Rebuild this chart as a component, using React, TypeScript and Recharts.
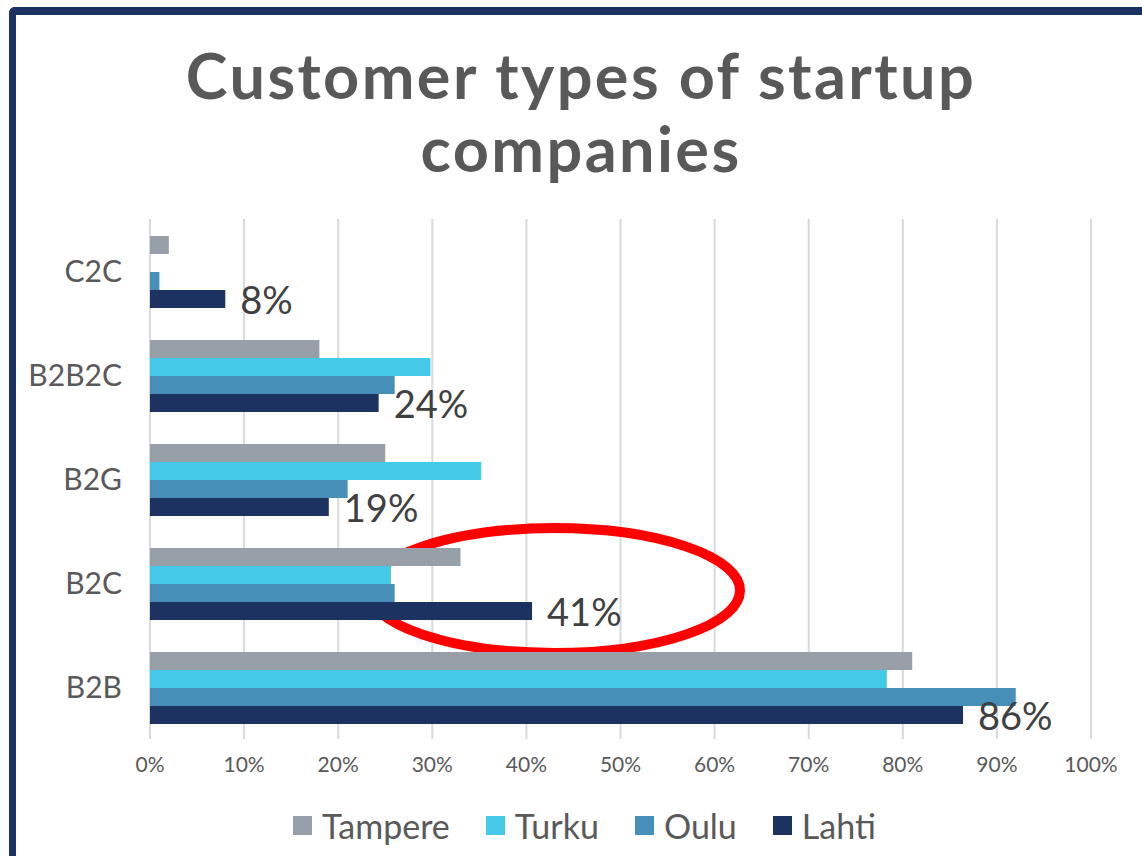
import React from 'react';
import {
  BarChart,
  Bar,
  XAxis,
  YAxis,
  CartesianGrid,
  LabelList,
  ReferenceArea,
} from 'recharts';

const categories = ['C2C', 'B2B2C', 'B2G', 'B2C', 'B2B'];
const tampere = [2, 18, 25, 33, 81];
const turku = [0, 29.8, 35.2, 25.6, 78.3];
const oulu = [1, 26, 21, 26, 92];
const lahti = [8, 24.3, 19, 40.6, 86.4];
const xTicks = [0, 10, 20, 30, 40, 50, 60, 70, 80, 90, 100];

const seriesNames = ['Tampere', 'Turku', 'Oulu', 'Lahti'];
const seriesColors = ['#97a0a9', '#44c9e6', '#458fb8', '#1c3260'];

const FONT = 'Lato, "Open Sans", sans-serif';
const NAVY = '#1c3260';

const data = categories.map((c, i) => ({
  name: c,
  Tampere: tampere[i],
  Turku: turku[i],
  Oulu: oulu[i],
  Lahti: lahti[i],
}));

const ValueLabel = (props: any) => {
  const { x, y, width, height, value } = props;
  return (
    <text
      x={x + width + 15}
      y={y + height / 2 + 15}
      fontSize={38}
      fontFamily={FONT}
      fill="#404040"
    >
      {Math.round(value)}%
    </text>
  );
};

// red ellipse drawn round the B2C group
const EllipseShape = (props: any) => {
  const { x, y, width, height } = props;
  return (
    <ellipse
      cx={x + width / 2}
      cy={y + height / 2 + 7.5}
      rx={width / 2}
      ry={(height / 2) * 1.2}
      fill="none"
      stroke="#ff0000"
      strokeWidth={10}
    />
  );
};

const ChartLegend = () => (
  <div
    style={{
      position: 'absolute',
      left: 0,
      top: 805,
      width: 1142,
      display: 'flex',
      justifyContent: 'center',
      alignItems: 'center',
      paddingLeft: 27,
      boxSizing: 'border-box',
      fontFamily: FONT,
      fontSize: 34,
      color: '#595959',
    }}
  >
    {seriesNames.map((n, i) => (
      <div
        key={n}
        style={{ display: 'flex', alignItems: 'center', marginRight: i < 3 ? 36 : 0 }}
      >
        <span
          style={{
            width: 19,
            height: 19,
            background: seriesColors[i],
            marginRight: 10,
            display: 'inline-block',
          }}
        />
        <span>{n}</span>
      </div>
    ))}
  </div>
);

const titleStyle: React.CSSProperties = {
  position: 'absolute',
  left: 0,
  width: 1162,
  textAlign: 'center',
  fontFamily: FONT,
  fontWeight: 700,
  fontSize: 63,
  letterSpacing: 2.4,
  lineHeight: '76px',
  color: '#595959',
  whiteSpace: 'nowrap',
};

export default function App() {
  return (
    <div
      style={{
        position: 'absolute',
        left: 0,
        top: 0,
        width: 1142,
        height: 856,
        background: '#fff',
        overflow: 'hidden',
      }}
    >
      <div
        style={{
          position: 'absolute',
          left: 9,
          top: 7,
          width: 1200,
          height: 900,
          borderTop: `8px solid ${NAVY}`,
          borderLeft: `7px solid ${NAVY}`,
          borderTopLeftRadius: 6,
        }}
      />
      <div style={{ ...titleStyle, top: 37 }}>Customer types of startup</div>
      <div style={{ ...titleStyle, top: 110 }}>companies</div>
      <div style={{ position: 'absolute', left: 0, top: 0 }}>
        <BarChart
          width={1142}
          height={856}
          data={data}
          layout="vertical"
          margin={{ top: 219, right: 51, left: 0, bottom: 77 }}
          barGap={0}
          barCategoryGap={17}
        >
          <CartesianGrid
            horizontal={false}
            vertical={true}
            stroke="#d9d9d9"
            strokeWidth={2}
          />
          <XAxis
            type="number"
            domain={[0, 100]}
            ticks={xTicks}
            tickFormatter={(v) => `${v}%`}
            axisLine={false}
            tickLine={false}
            tickSize={0}
            tickMargin={18}
            height={40}
            tick={{ fontSize: 21, fill: '#595959', fontFamily: FONT }}
          />
          <YAxis
            type="category"
            dataKey="name"
            width={150}
            axisLine={false}
            tickLine={false}
            tickSize={0}
            tickMargin={28}
            tick={{ fontSize: 30, fill: '#595959', fontFamily: FONT }}
          />
          {seriesNames.map((n, i) => (
            <Bar
              key={n}
              dataKey={n}
              fill={seriesColors[i]}
              isAnimationActive={false}
            >
              {n === 'Lahti' && (
                <LabelList dataKey="Lahti" content={<ValueLabel />} />
              )}
            </Bar>
          ))}
          <ReferenceArea
            x1={23.2}
            x2={62.7}
            y1="B2C"
            y2="B2C"
            ifOverflow="visible"
            shape={<EllipseShape />}
          />
        </BarChart>
      </div>
      <ChartLegend />
    </div>
  );
}
